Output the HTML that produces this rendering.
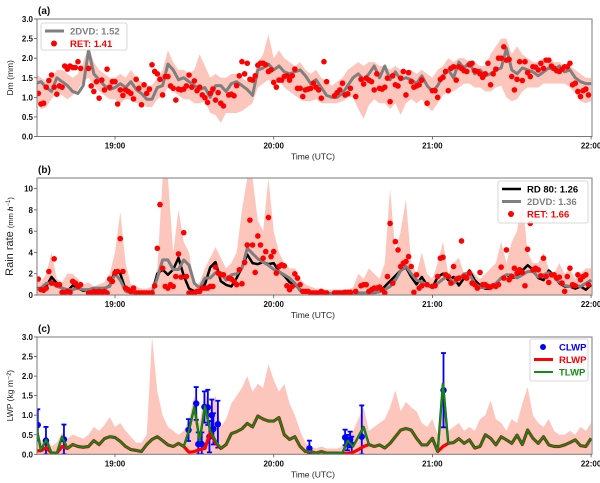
<!DOCTYPE html>
<html><head><meta charset="utf-8"><style>
body{margin:0;background:#fff}
svg{display:block;font-family:"Liberation Sans",sans-serif}
</style></head><body>
<svg id="chart" width="600" height="483" viewBox="0 0 600 483"></svg>
<script>
// ===== shared time axis (minutes after 18:00) =====
const xTickLabels = ["19:00","20:00","21:00","22:00"];
const xTickMinutes = [60,120,180,240];
const lineStart = 30, lineStep = 2;   // 2-min series start 18:30
const retStart = 31, retStep = 1;     // 1-min retrieval series start 18:31

// ===== panel (a) Dm =====
const dmTicks = [0.0,0.5,1.0,1.5,2.0,2.5,3.0];
const dm2dvd = [1.35,1.4,1.25,1.15,1.5,1.4,1.3,1.15,1.1,1.3,2.2,1.6,1.45,1.3,1.2,1.25,1.35,1.25,1.4,1.2,1.1,0.95,0.95,1.25,1.3,1.85,1.7,1.45,1.5,1.4,1.3,1.2,1.25,1.0,1.3,1.3,1.15,1.35,1.4,1.3,1.2,1.05,1.7,1.75,1.85,1.7,1.8,1.65,1.6,1.65,
1.7,1.55,1.35,1.45,1.25,1.05,1.0,1.0,1.1,1.3,1.5,1.6,1.45,1.6,1.8,1.5,1.8,1.45,1.65,1.45,1.5,1.45,1.35,1.55,1.3,1.15,1.3,1.55,1.7,1.5,1.9,1.75,1.9,1.6,1.7,1.55,1.6,1.7,1.75,2.25,1.7,1.6,1.75,1.7,1.65,1.55,1.65,1.75,1.7,1.8,1.65,1.7,1.5,1.4,1.35,1.35];
const dmBandHi = [1.6,1.5,1.4,1.5,1.7,1.7,1.6,1.5,1.6,1.9,2.3,1.9,1.7,1.6,1.5,1.5,1.6,1.5,1.7,1.5,1.4,1.3,1.3,1.5,1.7,2.2,1.9,1.7,1.7,1.6,1.7,2.1,1.8,1.5,1.6,1.5,1.5,1.6,1.6,1.5,1.4,1.4,1.9,2.1,2.6,2.0,2.2,2.0,1.9,1.8,
1.9,1.7,1.6,1.7,1.5,1.4,1.3,1.4,1.5,1.7,1.8,1.9,1.8,1.9,1.9,1.8,1.8,1.7,1.8,1.7,1.7,1.7,1.6,1.7,1.6,1.5,1.7,1.8,2.0,1.9,2.0,2.0,1.9,1.9,1.8,1.8,2.1,2.3,2.5,2.5,2.1,2.3,2.1,2.0,1.9,1.9,2.0,2.0,1.9,1.9,1.8,1.8,1.7,1.6,1.5,1.5];
const dmBandLo = [0.95,0.7,0.75,0.95,1.15,1.05,0.95,1.05,1.2,1.4,1.5,1.3,1.15,1.05,0.95,0.95,0.85,0.95,0.95,0.85,0.85,0.75,0.75,0.95,1.05,1.25,1.15,1.05,0.95,0.95,0.85,0.85,0.9,0.6,0.55,0.35,0.6,0.6,0.6,0.65,0.75,0.85,1.25,1.35,1.45,1.35,1.45,1.25,1.15,1.05,
0.95,0.9,0.9,0.95,0.85,0.85,0.85,0.85,0.9,1.0,1.0,0.7,0.45,0.8,0.95,0.85,0.85,0.7,0.85,0.55,0.85,0.95,0.85,0.95,0.75,0.65,0.85,1.05,1.15,1.15,1.25,1.35,1.35,1.25,1.25,1.15,1.15,1.25,1.3,1.0,0.9,0.95,1.15,1.25,1.25,1.25,1.35,1.35,1.35,1.35,1.35,1.25,1.1,0.9,0.85,0.9];
const dmRet = [1.10,0.83,0.85,1.26,1.43,1.57,1.26,1.08,1.29,1.26,1.80,1.72,1.80,1.76,1.76,1.91,1.74,null,null,
1.74,1.29,1.15,1.40,0.98,1.44,1.19,1.72,1.26,1.40,1.40,0.83,1.19,1.05,1.19,1.15,1.10,0.96,1.46,1.23,0.81,1.32,1.10,1.21,1.83,1.66,1.60,1.46,1.06,1.53,1.53,1.29,1.23,0.93,1.21,1.19,1.21,1.29,1.57,1.26,1.42,1.17,1.26,1.06,0.99,0.87,1.10,1.21,0.93,1.12,0.85,0.78,null,
1.06,1.08,1.04,1.30,1.55,1.91,1.60,1.87,1.46,1.44,1.55,1.82,1.87,1.87,1.83,1.66,1.70,1.38,1.26,1.44,1.44,1.53,1.55,1.44,1.55,1.72,1.23,
1.23,1.02,1.19,1.21,1.23,1.36,1.26,1.19,0.98,1.91,1.40,null,null,
1.04,1.12,1.19,1.36,1.06,1.09,1.23,null,1.02,null,
1.46,1.34,1.49,1.44,1.40,1.19,1.60,1.23,1.21,1.26,1.49,0.89,1.55,1.32,1.29,1.49,1.66,1.06,1.63,1.40,1.26,1.29,1.32,1.44,null,0.85,null,
1.17,1.17,1.00,1.46,1.51,1.66,1.17,1.74,1.78,1.44,1.78,1.74,1.68,1.66,1.83,1.87,1.68,1.66,1.60,1.51,1.60,1.87,1.32,1.60,1.72,2.00,2.00,2.29,1.95,1.97,1.53,1.19,1.46,1.91,1.43,1.91,1.63,1.53,1.78,1.77,1.70,1.87,1.74,1.95,1.95,1.80,1.74,1.68,1.66,1.72,1.78,1.78,1.87,1.32,1.36,1.15,1.02,1.17,1.21,1.06];

// ===== panel (b) rain rate =====
const rrTicks = [0,2,4,6,8,10];
const rrRd80 = [0.65,0.65,0.8,1.7,1.1,0.65,0.35,0.9,0.65,0.4,0.5,0.65,0.35,0.55,0.9,2.3,2.0,0.5,0.2,0.2,0.2,0.2,0.2,2.0,2.4,1.9,2.4,3.5,1.8,0.6,0.35,0.5,1.0,2.6,3.1,1.3,0.95,0.8,1.6,2.6,3.8,3.0,2.9,3.1,2.9,3.0,2.2,1.8,1.2,0.95,
0.5,0.35,0.2,0.2,0.15,0.15,0.15,0.15,0.15,0.15,0.2,0.2,0.2,0.2,0.2,0.3,0.8,1.3,1.8,2.3,2.6,1.7,1.0,1.7,0.9,0.7,1.7,2.0,1.4,1.7,0.9,1.6,2.3,1.4,0.9,0.6,0.6,1.0,1.6,1.9,1.6,1.7,2.3,2.8,2.4,1.6,1.4,2.3,1.8,1.1,0.8,0.8,0.6,0.8,0.5,0.95];
const rr2dvd = [0.5,0.65,1.1,1.1,0.8,0.65,0.5,0.5,0.65,0.5,0.5,0.65,0.65,0.65,0.8,2.0,1.4,0.35,0.2,0.2,0.2,0.2,0.2,1.6,3.3,3.3,2.4,2.4,3.3,2.8,1.1,0.65,1.6,1.6,2.1,2.1,1.4,1.9,2.0,2.5,4.4,3.9,3.4,3.1,2.8,2.4,2.2,1.9,1.6,1.1,
0.4,0.3,0.2,0.2,0.15,0.15,0.15,0.15,0.15,0.15,0.15,0.2,0.2,0.2,0.25,0.3,0.5,0.8,1.4,2.3,2.7,2.0,1.4,1.2,1.0,0.7,1.1,1.5,1.8,1.1,1.5,2.0,2.0,1.1,0.7,0.7,0.8,1.1,1.6,1.9,1.9,1.6,1.9,2.2,2.2,1.7,1.9,2.1,1.7,1.2,0.9,0.8,0.9,0.8,1.1,1.4];
const rrBandHi = [1.8,1.2,2,4,1.5,1.2,2,2,1.5,1,1.2,0.8,1,1.2,2,4,7.8,3,1,0.8,0.6,0.6,0.8,2.5,11.5,11.5,4,8,5,4,0.8,1.2,2.5,3.5,4.5,3.5,2.5,3,4,8,11.5,11.5,7,6,11.5,6,4,3,2.5,2.5,
1.5,1,0.8,0.6,0.6,0.5,0.5,0.5,0.5,0.5,0.7,2,1.5,2.5,2,1.5,3,10,4,6,9,3,2,4,2,1.5,3,5,2,3,3.5,2,2.5,2,1.5,2,2.5,3,5,3,5,6,9,4,3,3,4,2.5,2,3,2,2.5,1.5,2,2.5,2.5];
const rrRet = [1.50,0.50,0.44,0.65,2.21,1.12,3.40,0.97,0.97,0.25,0.19,0.34,0.25,1.28,1.12,0.8,0.97,null,null,
0.19,0.19,0.34,0.19,0.34,0.19,0.34,0.19,1.50,1.28,2.06,2.21,5.30,2.21,0.65,0.50,0.34,0.65,0.19,0.19,0.19,0.19,0.19,0.19,0.19,0.87,4.39,8.50,2.52,0.81,0.65,0.97,0.81,1.74,3.86,1.68,5.86,1.74,0.19,0.19,0.19,0.34,0.34,0.65,0.65,0.65,0.81,0.81,2.62,2.06,1.90,1.90,null,
1.59,1.50,1.28,0.97,2.37,1.06,3.05,4.70,7.04,4.70,2.12,5.55,4.70,3.46,4.08,7.29,3.61,4.08,2.06,2.68,2.83,2.74,0.87,0.50,0.81,1.99,1.59,
0.97,0.34,0.34,0.34,0.19,0.19,0.19,0.19,0.34,0.19,0.19,null,null,
0.19,0.19,0.19,0.19,0.25,0.25,0.25,null,0.34,null,
0.87,0.97,0.97,0.34,0.50,0.65,0.65,0.75,0.50,0.19,1.74,6.73,1.12,5.02,4.24,2.68,2.99,3.15,3.61,2.68,0.25,1.90,0.65,0.87,null,0.97,null,
0.81,0.87,1.74,3.46,3.55,1.90,1.74,1.12,2.68,1.50,1.59,5.08,1.74,1.59,2.06,1.12,0.97,0.65,2.12,0.97,0.97,0.81,0.75,0.87,0.81,0.97,2.62,1.59,4.24,1.43,1.74,2.52,2.06,2.37,2.12,0.87,4.30,6.73,2.37,2.52,2.37,1.81,3.46,1.74,1.18,1.90,1.90,1.59,1.68,1.12,0.34,1.74,2.52,0.97,0.87,1.90,1.43,1.74,1.90,0.97];

// ===== panel (c) LWP =====
const lwpTicks = [0.0,0.5,1.0,1.5,2.0,2.5,3.0];
const tlwp = [0.79,0.11,0.37,0.03,0.03,0.45,0.15,0.25,0.2,0.18,0.2,0.35,0.25,0.4,0.45,0.43,0.33,0.2,0.12,0.1,0.07,0.25,0.38,0.45,0.35,0.24,0.2,0.28,0.2,0.62,1.21,0.35,1.23,0.6,0.35,0.15,0.25,0.53,0.58,0.65,0.79,0.7,0.98,0.9,0.85,0.85,0.94,0.5,0.38,0.45,
0.2,0.07,0.07,0.03,0.07,0.03,0.03,0.03,0.04,0.35,0.2,0.45,0.7,0.25,0.2,0.24,0.16,0.28,0.45,0.62,0.66,0.62,0.41,0.24,0.24,0.41,0.07,1.81,0.28,0.3,0.4,0.28,0.37,0.16,0.2,0.5,0.41,0.24,0.45,0.37,0.28,0.49,0.25,0.62,0.41,0.28,0.45,0.24,0.2,0.2,0.24,0.3,0.37,0.22,0.2,0.41];
const rlwp = [0.09,0.09,0.17,0.03,0.03,0.2,0.15,0.25,0.2,0.18,0.2,0.35,0.25,0.4,0.45,0.43,0.33,0.2,0.12,0.1,0.07,0.25,0.38,0.45,0.35,0.24,0.2,0.28,0.2,0.05,0.07,0.12,0.15,0.55,0.3,0.15,0.25,0.53,0.58,0.65,0.79,0.7,0.98,0.9,0.85,0.85,0.94,0.5,0.38,0.45,
0.2,0.07,0.07,0.03,0.07,0.03,0.03,0.03,0.02,0.02,0.05,0.12,0.2,0.25,0.2,0.24,0.16,0.28,0.45,0.62,0.66,0.62,0.41,0.24,0.24,0.41,0.07,0.2,0.28,0.3,0.4,0.28,0.37,0.16,0.2,0.5,0.41,0.24,0.45,0.37,0.28,0.49,0.25,0.62,0.41,0.28,0.45,0.24,0.2,0.2,0.24,0.3,0.37,0.22,0.2,0.41];
const lwpBandHi = [0.9,0.3,0.5,0.2,0.3,0.55,0.4,0.5,0.45,0.4,0.5,0.7,0.6,0.75,0.95,0.7,0.8,0.6,0.45,0.3,0.3,0.5,3.0,1.6,1.0,0.7,0.6,0.5,0.6,0.9,1.5,0.8,1.6,1.2,1.5,0.7,0.9,1.3,1.5,1.7,2.0,1.6,1.8,1.7,2.3,1.9,1.6,1.8,1.3,1.0,
0.6,0.3,0.2,0.15,0.2,0.15,0.15,0.15,0.2,0.5,0.6,0.9,1.2,0.6,0.7,0.8,0.9,1.2,1.64,1.1,1.34,1.2,1.1,0.8,0.7,0.9,0.5,1.2,0.6,0.7,0.8,0.6,0.7,0.6,0.9,1.0,1.38,0.9,0.8,0.6,0.9,0.8,1.3,1.72,1.0,0.8,0.7,0.9,0.6,0.5,0.5,0.6,0.5,0.7,0.6,0.8];
const clwpTimes = [30.8,33.9,40.7,87.8,90.7,91.5,92.8,93.8,95.1,95.7,96.6,97.2,98.9,133.5,147,147.9,148.9,149.5,153.3,184.2];
const clwpVals = [0.75,0.35,0.38,0.62,1.3,0.26,0.26,1.21,1.2,0.45,1.0,0.65,0.77,0.15,0.43,0.3,0.38,0.25,0.45,1.64];
const clwpErr = [0.4,0.35,0.38,0.28,0.42,0.3,0.3,0.4,0.45,0.4,0.4,0.4,0.6,0.2,0.2,0.2,0.2,0.2,0.8,0.95];

// ===== drawing =====
const svg = document.getElementById('chart');
const NS = 'http://www.w3.org/2000/svg';
const X0 = 37, X1 = 592;
function xs(t){ return 115 + (t-60)*158.7/60; }
function mk(tag, attrs, parent){
  const e = document.createElementNS(NS, tag);
  for (const k in attrs) e.setAttribute(k, attrs[k]);
  (parent||svg).appendChild(e); return e;
}
function ys(p, v){ return p.bottom - (v/p.ymax)*(p.bottom-p.top); }
function clampY(p, v){ return Math.max(p.top, ys(p, v)); }

const panels = [
  {key:'a', top:19, bottom:136.5, ymax:3, ticks:dmTicks, fmt:v=>v.toFixed(1)},
  {key:'b', top:178, bottom:295, ymax:11, ticks:rrTicks, fmt:v=>String(v)},
  {key:'c', top:337, bottom:454.3, ymax:3, ticks:lwpTicks, fmt:v=>v.toFixed(1)}
];

function linePath(p, arr, start, step){
  let d=''; arr.forEach((v,i)=>{ if(v==null) return; d += (d?'L':'M') + xs(start+i*step).toFixed(2)+','+clampY(p,v).toFixed(2); });
  return d;
}
function bandPath(p, hi, lo, start, step){
  const up = hi.map((v,i)=> xs(start+i*step).toFixed(2)+','+clampY(p,v).toFixed(2));
  const dn = hi.map((v,i)=> xs(start+i*step).toFixed(2)+','+clampY(p, lo?lo[i]:0).toFixed(2)).reverse();
  return 'M'+up.join('L')+'L'+dn.join('L')+'Z';
}

panels.forEach(p=>{
  const g = mk('g', {});
  
  
  const clip = mk('clipPath', {id:'clip-'+p.key}, g);
  mk('rect', {x:X0, y:p.top, width:X1-X0, height:p.bottom-p.top}, clip);
  p.g = g;
  p.plot = mk('g', {'clip-path':'url(#clip-'+p.key+')'}, g);
  
  
});

// Panel a marks
{
  const p = panels[0];
  const band = mk('path', {d:bandPath(p, dmBandHi, dmBandLo, lineStart, lineStep), fill:'#fdc6bd'}, p.plot);
  
  
  const ln = mk('path', {d:linePath(p, dm2dvd, lineStart, lineStep), fill:'none', stroke:'#7f7f7f', 'stroke-width':3, 'stroke-linejoin':'round'}, p.plot);
  
  
  dmRet.forEach((v,i)=>{ if(v==null) return;
    const c = mk('circle', {cx:xs(retStart+i*retStep), cy:ys(p,v), r:2.8, fill:'#ff0000'}, p.plot);
    
    
  });
}
// Panel b marks
{
  const p = panels[1];
  const band = mk('path', {d:bandPath(p, rrBandHi, null, lineStart, lineStep), fill:'#fdc6bd'}, p.plot);
  
  
  const l1 = mk('path', {d:linePath(p, rrRd80, lineStart, lineStep), fill:'none', stroke:'#000', 'stroke-width':2.5, 'stroke-linejoin':'round'}, p.plot);
  
  
  const l2 = mk('path', {d:linePath(p, rr2dvd, lineStart, lineStep), fill:'none', stroke:'#7f7f7f', 'stroke-width':3, 'stroke-linejoin':'round'}, p.plot);
  
  
  rrRet.forEach((v,i)=>{ if(v==null) return;
    const c = mk('circle', {cx:xs(retStart+i*retStep), cy:ys(p,v), r:2.8, fill:'#ff0000'}, p.plot);
    
    
  });
}
// Panel c marks
{
  const p = panels[2];
  const band = mk('path', {d:bandPath(p, lwpBandHi, null, lineStart, lineStep), fill:'#fdc6bd'}, p.plot);
  
  
  clwpVals.forEach((v,i)=>{
    const x = xs(clwpTimes[i]);
    const e = clwpErr[i];
    const yt = clampY(p, v+e), yb = ys(p, Math.max(0, v-e));
    const eb = mk('path', {d:`M${x},${yt}L${x},${yb}M${x-2.5},${yt}L${x+2.5},${yt}M${x-2.5},${yb}L${x+2.5},${yb}`, stroke:'#0000ff', 'stroke-width':1.8, fill:'none'}, p.plot);
    
    
    const c = mk('circle', {cx:x, cy:ys(p,v), r:3.2, fill:'#0000ff'}, p.plot);
    
    
  });
  const lr = mk('path', {d:linePath(p, rlwp, lineStart, lineStep), fill:'none', stroke:'#ff0000', 'stroke-width':3.2, 'stroke-linejoin':'round'}, p.plot);
  
  
  const lo = mk('path', {d:linePath(p, tlwp, lineStart, lineStep), fill:'none', stroke:'#1e5a1e', 'stroke-width':2.4, 'stroke-linejoin':'round'}, p.plot);
  
  
  const lg = mk('path', {d:linePath(p, tlwp, lineStart, lineStep), fill:'none', stroke:'#139013', 'stroke-width':1.3, 'stroke-linejoin':'round'}, p.plot);
  
  
}

// Axes, ticks, labels
const ylabels = ['Dm (mm)', null, 'LWP (kg m⁻²)'];
panels.forEach((p,pi)=>{
  const g = p.g;
  const fr = mk('rect', {x:X0, y:p.top, width:X1-X0, height:p.bottom-p.top, fill:'none', stroke:'#7a7a7a', 'stroke-width':1}, g);
  
  
  p.ticks.forEach(v=>{
    const y = ys(p,v);
    const tk = mk('line', {x1:X0-3, x2:X0, y1:y, y2:y, stroke:'#555', 'stroke-width':0.8}, g);
    
    
    const t = mk('text', {x:X0-4, y:y+3, 'text-anchor':'end', 'font-size':8, 'font-weight':'bold', fill:'#111'}, g);
    t.textContent = p.fmt(v);
    
    
  });
  xTickMinutes.forEach((m,i)=>{
    const x = xs(m);
    const tk = mk('line', {x1:x, x2:x, y1:p.bottom, y2:p.bottom+3, stroke:'#555', 'stroke-width':0.8}, g);
    
    
    const t = mk('text', {x:x, y:p.bottom+12, 'text-anchor':'middle', 'font-size':8, 'font-weight':'bold', fill:'#111'}, g);
    t.textContent = xTickLabels[i];
    
    
  });
  const xt = mk('text', {x:313, y:p.bottom+23, 'text-anchor':'middle', 'font-size':8.5, fill:'#222'}, g);
  xt.textContent = 'Time (UTC)';
  
  
  const pl = mk('text', {x:38, y:p.top-5, 'font-size':10, 'font-weight':'bold', fill:'#111'}, g);
  pl.textContent = '('+p.key+')';
  
  
  const cy = (p.top+p.bottom)/2;
  const yt = mk('text', {x:0, y:0, 'text-anchor':'middle', 'font-size':8.5, fill:'#222', transform:`translate(13,${cy}) rotate(-90)`}, g);
  if (ylabels[pi]) yt.textContent = ylabels[pi];
  else {
    const a = mk('tspan', {'font-size':11}, yt); a.textContent = 'Rain rate ';
    const b = mk('tspan', {'font-size':7.5}, yt); b.textContent = '(mm ';
    const c = mk('tspan', {'font-size':7.5, 'font-weight':'bold', 'font-style':'italic'}, yt); c.textContent = 'h';
    const d = mk('tspan', {'font-size':6, dy:-3}, yt); d.textContent = '−1';
    const e = mk('tspan', {'font-size':7.5, dy:3}, yt); e.textContent = ')';
  }
  
  
});

// Legends
function legend(x, y, w, h, items, name){
  const g = mk('g', {});
  
  
  mk('rect', {x:x, y:y, width:w, height:h, rx:2, fill:'#fff', 'fill-opacity':0.85, stroke:'#ccc', 'stroke-width':0.8}, g);
  items.forEach((it,i)=>{
    const cy = y+8+i*12.5;
    if (it.type==='line') mk('line', {x1:x+4, x2:x+23, y1:cy, y2:cy, stroke:it.color, 'stroke-width':it.w}, g);
    else mk('circle', {cx:x+13, cy:cy, r:3, fill:it.color}, g);
    const t = mk('text', {x:x+29, y:cy+3.5, 'font-size':9.5, 'font-weight':'bold', fill:it.tcolor||it.color}, g);
    t.textContent = it.label;
    
    
  });
}
legend(41, 23, 86, 27, [
  {type:'line', color:'#7f7f7f', w:3, label:'2DVD: 1.52'},
  {type:'dot', color:'#ff0000', label:'RET: 1.41'}], 'legend-a');
legend(498, 181, 90, 42, [
  {type:'line', color:'#000', w:2.5, label:'RD 80: 1.26'},
  {type:'line', color:'#7f7f7f', w:3, label:'2DVD: 1.36'},
  {type:'dot', color:'#ff0000', label:'RET: 1.66'}], 'legend-b');
legend(530, 339, 58, 42, [
  {type:'dot', color:'#0000ff', label:'CLWP'},
  {type:'line', color:'#ff0000', w:3, label:'RLWP'},
  {type:'line', color:'#139013', w:2, label:'TLWP'}], 'legend-c');
</script>
</body></html>
